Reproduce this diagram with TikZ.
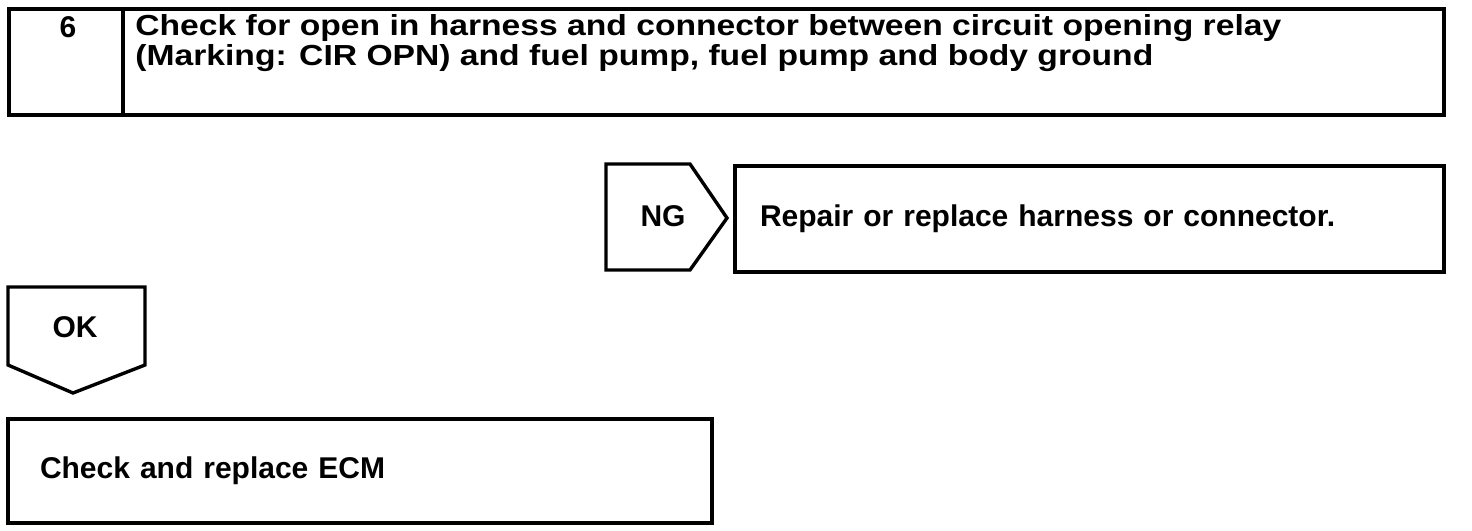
\documentclass[tikz,border=0pt]{standalone}
\usepackage{fontspec}
\setmainfont{Liberation Sans}
\newfontfamily\widefont[FakeStretch=1.16]{Liberation Sans}
\usetikzlibrary{positioning}
\newcommand\titlefont{\widefont\bfseries\fontsize{14.5}{15}\selectfont}

\begin{document}
\begin{tikzpicture}[
  x=0.5pt, y=-0.5pt,
  cell/.style={draw=black, line width=1.7pt, inner sep=0pt},
  outl/.style={draw=black, line width=1.7pt, line join=miter},
  lbl/.style={font=\bfseries\fontsize{15}{16}\selectfont, inner sep=0pt},
  msg/.style={cell, lbl, align=left, minimum height=53pt}]

  \useasboundingbox (0,0) rectangle (1472,530);

  % step header
  \node[cell, minimum width=57pt, minimum height=53pt] (num) at (66,62) {};
  \node[cell, minimum width=660.5pt, minimum height=53pt] (head) at (783.5,62) {};
  \node[lbl] (stepno) at (68,27) {6};
  \node[lbl, font=\titlefont, anchor=west, align=left] (title) at (135,43)
    {Check for open in harness and connector between circuit opening relay\\
     (Marking: CIR OPN) and fuel pump, fuel pump and body ground};

  % NG branch
  \draw[outl] (606,164) -- (690,164) -- (727,218) -- (690,270) -- (606,270) -- cycle;
  \node[lbl] (ng) at (663,216) {NG};
  \node[msg, inner xsep=12.5pt, text width=329.5pt] (fix) at (1089.5,219)
    {Repair or replace harness or connector.};

  % OK branch
  \draw[outl] (8,287) -- (145,287) -- (145,365) -- (73,393) -- (8,365) -- cycle;
  \node[lbl] (ok) at (75,327) {OK};
  \node[msg, inner xsep=16pt, text width=320pt, minimum height=52pt] (ecm) at (360,471)
    {Check and replace ECM};
\end{tikzpicture}
\end{document}
